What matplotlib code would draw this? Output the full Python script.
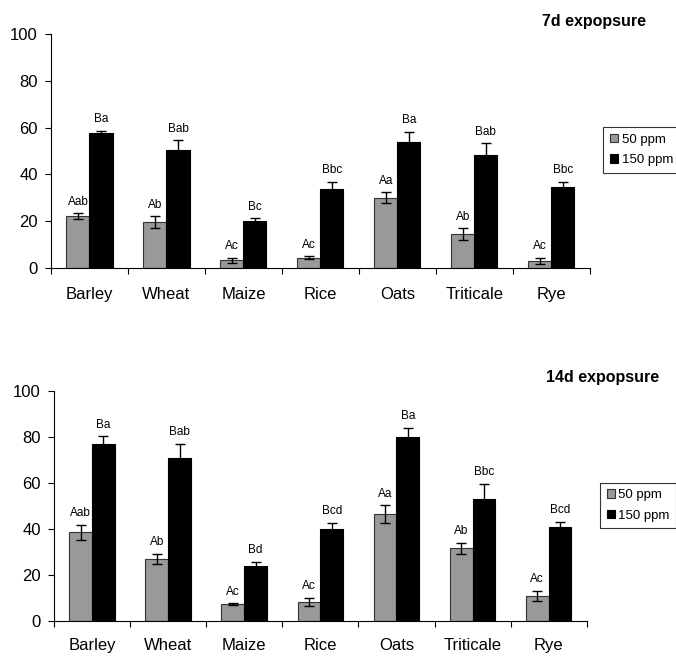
import numpy as np
import matplotlib
matplotlib.use("Agg")
import matplotlib.pyplot as plt

plt.rcParams["font.family"] = ["Liberation Sans", "DejaVu Sans"]

crops = ["Barley", "Wheat", "Maize", "Rice", "Oats", "Triticale", "Rye"]

# 7 days
d7_50 = [22.2, 19.5, 3.3, 4.4, 30.0, 14.4, 3.1]
d7_50_err = [1.1, 2.6, 1.0, 0.6, 2.4, 2.6, 1.2]
d7_150 = [57.8, 50.6, 19.9, 33.8, 53.8, 48.3, 34.6]
d7_150_err = [0.9, 3.9, 1.3, 3.1, 4.4, 5.0, 2.3]
d7_50_lab = ["Aab", "Ab", "Ac", "Ac", "Aa", "Ab", "Ac"]
d7_150_lab = ["Ba", "Bab", "Bc", "Bbc", "Ba", "Bab", "Bbc"]

# 14 days
d14_50 = [38.6, 27.2, 7.4, 8.4, 46.5, 31.7, 11.1]
d14_50_err = [3.4, 2.1, 0.4, 1.9, 3.8, 2.4, 2.2]
d14_150 = [76.9, 70.9, 24.2, 40.1, 80.0, 53.2, 40.9]
d14_150_err = [3.5, 6.2, 1.7, 2.7, 4.1, 6.5, 2.3]
d14_50_lab = ["Aab", "Ab", "Ac", "Ac", "Aa", "Ab", "Ac"]
d14_150_lab = ["Ba", "Bab", "Bd", "Bcd", "Ba", "Bbc", "Bcd"]

series_names = ["50 ppm", "150 ppm"]
grey = "#999999"

fig = plt.figure(figsize=(6.76, 6.56), dpi=100)
ax1 = fig.add_axes([0.0754, 0.5915, 0.797, 0.3567])
ax2 = fig.add_axes([0.0799, 0.0529, 0.788, 0.351])


def panel(ax, lo, lo_err, hi, hi_err, lo_lab, hi_lab, title, title_xy, leg_anchor, xpad):
    x = np.arange(len(crops))
    w = 0.3
    ax.bar(x - w / 2, lo, w, color=grey, edgecolor="#333333", linewidth=0.8,
           label=series_names[0])
    ax.bar(x + w / 2, hi, w, color="black", edgecolor="black", linewidth=0.8,
           label=series_names[1])
    ax.errorbar(x - w / 2, lo, yerr=lo_err, fmt="none", ecolor="black",
                elinewidth=1, capsize=3.5, capthick=1)
    ax.errorbar(x + w / 2, hi, yerr=hi_err, fmt="none", ecolor="black",
                elinewidth=1, capsize=3.5, capthick=1)
    for i in range(len(crops)):
        ax.annotate(lo_lab[i], (x[i] - w / 2, lo[i] + lo_err[i]), xytext=(0, 4),
                    textcoords="offset points", ha="center", va="bottom", fontsize=8.5)
        ax.annotate(hi_lab[i], (x[i] + w / 2, hi[i] + hi_err[i]), xytext=(0, 4),
                    textcoords="offset points", ha="center", va="bottom", fontsize=8.5)

    ax.set_xlim(-0.5, len(crops) - 0.5)
    ax.set_ylim(0, 100)
    ax.set_yticks([0, 20, 40, 60, 80, 100])
    ax.tick_params(axis="y", labelsize=12, length=4.5, width=0.8, pad=5)
    ax.set_xticks(np.arange(len(crops) + 1) - 0.5)
    ax.set_xticklabels([])
    ax.tick_params(axis="x", which="major", length=4, width=0.8, direction="out")
    ax.set_xticks(x, minor=True)
    ax.set_xticklabels(crops, minor=True, fontsize=12)
    ax.tick_params(axis="x", which="minor", length=0, pad=xpad)
    for s in ["top", "right"]:
        ax.spines[s].set_visible(False)
    for s in ["left", "bottom"]:
        ax.spines[s].set_linewidth(0.8)

    fig.text(title_xy[0], title_xy[1], title, fontsize=11.5, fontweight="bold",
             ha="center", va="center")
    leg = ax.legend(loc="center left", bbox_to_anchor=leg_anchor, fontsize=9.5,
                    frameon=True, fancybox=False, handlelength=0.6, handleheight=0.6,
                    handletextpad=0.3, borderpad=0.5, labelspacing=0.65,
                    borderaxespad=0)
    leg.get_frame().set_edgecolor("black")
    leg.get_frame().set_linewidth(0.8)


panel(ax1, d7_50, d7_50_err, d7_150, d7_150_err, d7_50_lab, d7_150_lab,
      "7d expopsure", (0.879, 0.967), (1.025, 0.505), 14)
panel(ax2, d14_50, d14_50_err, d14_150, d14_150_err, d14_50_lab, d14_150_lab,
      "14d expopsure", (0.891, 0.424), (1.025, 0.503), 12)

fig.savefig("out.png", dpi=100)
